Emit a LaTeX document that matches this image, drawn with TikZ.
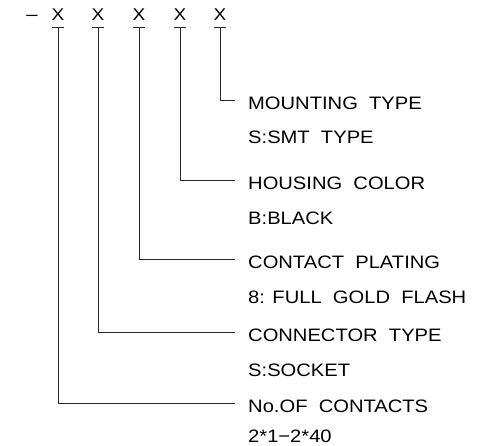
\documentclass[tikz,border=0pt]{standalone}
\usepackage{fontspec}
\setmainfont{Liberation Sans}
\newfontfamily\cadfont{Liberation Sans}[FakeStretch=1.12]
\begin{document}
\begin{tikzpicture}[x=1pt,y=-1pt,
  lbl/.style={anchor=base west, inner sep=0pt, font=\cadfont\fontsize{18}{22}\selectfont},
  code/.style={anchor=center, inner sep=0pt, font=\cadfont\fontsize{17}{20}\selectfont},
  lead/.style={line width=1pt, draw=black!85}]
\useasboundingbox[fill=white] (0,0) rectangle (488,446);
% code row
\node[anchor=base, inner sep=0pt, font=\cadfont\fontsize{18}{20}\selectfont] (dash) at (32,20.5) {–};
\node[code] (x1) at (58,15) {X};
\node[code] (x2) at (98,15) {X};
\node[code] (x3) at (139,15) {X};
\node[code] (x4) at (180,15) {X};
\node[code] (x5) at (220,15) {X};
% tee tops
\foreach \i/\xx in {1/58,2/98,3/139,4/180,5/220}{
  \coordinate (t\i) at (\xx,28);
  \draw[lead] ([xshift=-6pt]t\i) -- ([xshift=6pt]t\i);
}
% leader ends
\coordinate (e5) at (235,101);
\coordinate (e4) at (235,181);
\coordinate (e3) at (235,260);
\coordinate (e2) at (235,333);
\coordinate (e1) at (235,404);
% labels
\node[lbl] (a5) at (248,109.5) {MOUNTING~~TYPE};
\node[lbl] (b5) at (248,143.5) {S:SMT~~TYPE};
\node[lbl] (a4) at (248,189.5) {HOUSING~~COLOR};
\node[lbl] (b4) at (248,224.5) {B:BLACK};
\node[lbl] (a3) at (248,268.5) {CONTACT~~PLATING};
\node[lbl] (b3) at (248,303.5) {8: FULL~~GOLD~~FLASH};
\node[lbl] (a2) at (248,341.5) {CONNECTOR~~TYPE};
\node[lbl] (b2) at (248,376.5) {S:SOCKET};
\node[lbl] (a1) at (248,412.5) {No.OF~~CONTACTS};
\node[lbl] (b1) at (248,443) {2*1−2*40};
% connectors
\foreach \i in {1,...,5}{
  \draw[lead] (t\i) |- (e\i);
}
\end{tikzpicture}
\end{document}
